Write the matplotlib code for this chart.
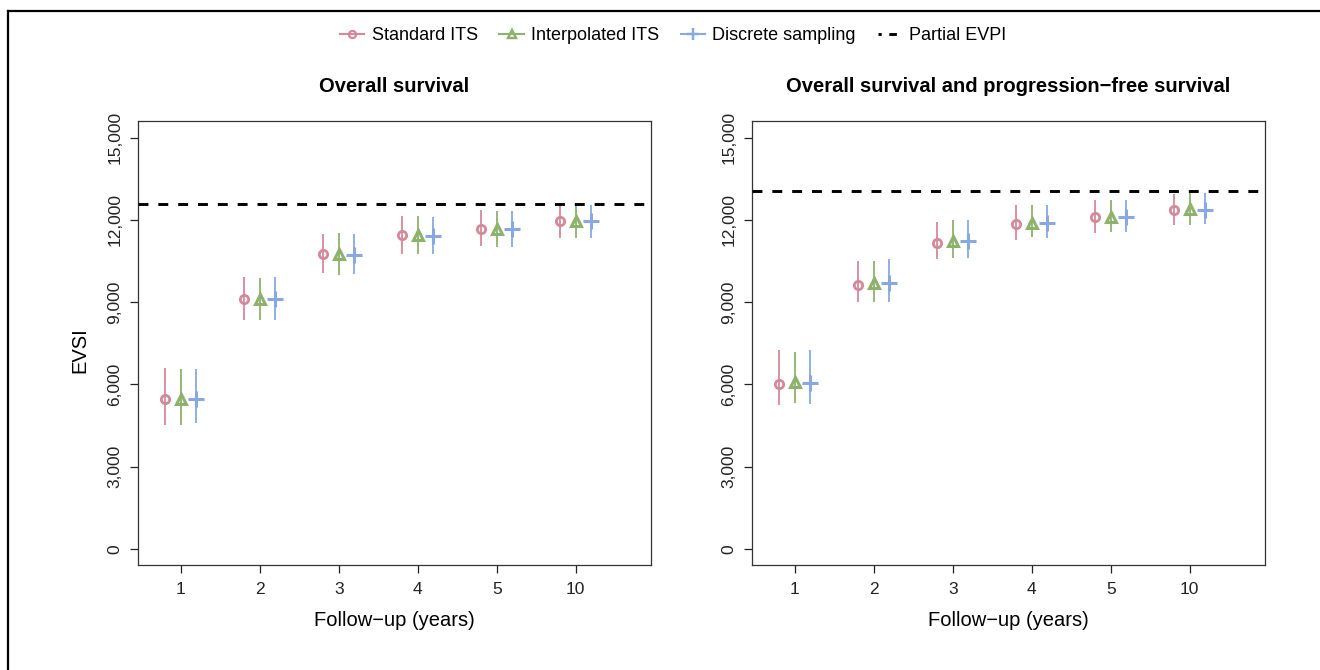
import matplotlib
matplotlib.use("Agg")
import matplotlib.pyplot as plt
from matplotlib.lines import Line2D
import numpy as np

plt.rcParams['font.family'] = ['Liberation Sans', 'DejaVu Sans']

years = ["1", "2", "3", "4", "5", "10"]

# Overall survival panel
os_std = [5470, 9120, 10740, 11440, 11680, 11950]
os_std_lo = [4530, 8360, 10050, 10770, 11050, 11360]
os_std_hi = [6600, 9920, 11480, 12130, 12350, 12570]
os_int = [5470, 9120, 10740, 11440, 11680, 11950]
os_int_lo = [4510, 8340, 10010, 10760, 11030, 11340]
os_int_hi = [6570, 9900, 11510, 12130, 12340, 12520]
os_dis = [5480, 9110, 10730, 11430, 11670, 11950]
os_dis_lo = [4590, 8360, 10020, 10770, 11030, 11340]
os_dis_hi = [6570, 9920, 11480, 12120, 12340, 12550]
os_evpi = 12590

# Overall survival and progression-free survival panel
pfs_std = [6020, 9630, 11170, 11840, 12100, 12350]
pfs_std_lo = [5250, 8990, 10560, 11280, 11540, 11830]
pfs_std_hi = [7240, 10510, 11930, 12550, 12720, 12950]
pfs_int = [6070, 9700, 11240, 11900, 12120, 12400]
pfs_int_lo = [5330, 8990, 10630, 11370, 11560, 11830]
pfs_int_hi = [7200, 10510, 12000, 12550, 12720, 13000]
pfs_dis = [6060, 9700, 11220, 11880, 12100, 12380]
pfs_dis_lo = [5300, 9020, 10630, 11330, 11550, 11850]
pfs_dis_hi = [7260, 10570, 12000, 12550, 12720, 13000]
pfs_evpi = 13050

series_names = ["Standard ITS", "Interpolated ITS", "Discrete sampling"]
colors = ["#D4899A", "#8DB26B", "#87A9E0"]
markers = ["o", "^", "+"]
msizes = [6, 7, 11]
mews = [2.0, 2.2, 2.2]
offsets = [-0.2, 0.0, 0.2]

W, H = 1320, 670
fig = plt.figure(figsize=(W / 100, H / 100), dpi=100)

ax_w = 513.6 / W
ax_h = (565.3 - 121.3) / H
ax_b = 1 - 565.3 / H
axL = fig.add_axes([137.7 / W, ax_b, ax_w, ax_h])
axR = fig.add_axes([751.7 / W, ax_b, ax_w, ax_h])

panels = [
    (axL, "Overall survival",
     [(os_std, os_std_lo, os_std_hi), (os_int, os_int_lo, os_int_hi), (os_dis, os_dis_lo, os_dis_hi)],
     os_evpi),
    (axR, "Overall survival and progression\u2212free survival",
     [(pfs_std, pfs_std_lo, pfs_std_hi), (pfs_int, pfs_int_lo, pfs_int_hi), (pfs_dis, pfs_dis_lo, pfs_dis_hi)],
     pfs_evpi),
]

pos = np.arange(1, len(years) + 1)
for ax, title, data, evpi in panels:
    for k, (mid, lo, hi) in enumerate(data):
        mid = np.array(mid); lo = np.array(lo); hi = np.array(hi)
        x = pos + offsets[k]
        ax.vlines(x, lo, hi, color=colors[k], lw=1.3, zorder=2)
        ax.plot(x, mid, linestyle='none', marker=markers[k], ms=msizes[k],
                mfc='none' if markers[k] != '+' else colors[k], mec=colors[k], mew=mews[k], zorder=3)
    ax.axhline(evpi, color='black', lw=2.1, linestyle=(0, (3.4, 3.4)), zorder=4)
    ax.set_xlim(0.456, 6.957)
    ax.set_ylim(-600, 15600)
    ax.set_xticks(pos)
    ax.set_xticklabels(years)
    ax.set_yticks([0, 3000, 6000, 9000, 12000, 15000])
    ax.set_yticklabels(["0", "3,000", "6,000", "9,000", "12,000", "15,000"],
                       rotation=90, va='center')
    ax.tick_params(axis='both', direction='out', length=6, width=0.9, labelsize=12.5,
                   colors='#222222')
    ax.tick_params(axis='x', pad=6)
    ax.tick_params(axis='y', pad=5)
    for s in ax.spines.values():
        s.set_linewidth(0.9)
        s.set_color('#333333')
    bb = ax.get_position()
    cx = (bb.x0 + bb.x1) / 2
    fig.text(cx, 1 - 87 / H, title, ha='center', va='center', fontsize=14.5, fontweight='bold')
    fig.text(cx, 1 - 621 / H, "Follow\u2212up (years)", ha='center', va='center', fontsize=14.5)

fig.text(80 / W, 1 - 350 / H, "EVSI", ha='center', va='center', rotation=90, fontsize=14.5)

# legend
handles = []
for k in range(3):
    handles.append(Line2D([0], [0], color=colors[k], lw=1.5, marker=markers[k],
                          ms=msizes[k] * 0.85, mfc='none' if markers[k] != '+' else colors[k],
                          mec=colors[k], mew=mews[k] * 0.8))
handles.append(Line2D([0], [0], color='black', lw=2.1, linestyle=(1.5, (2.6, 2.6))))
fig.legend(handles, series_names + ["Partial EVPI"], loc='center left', ncol=4,
           bbox_to_anchor=(340 / W, 1 - 36 / H), frameon=False, fontsize=13,
           handlelength=1.35, handletextpad=0.4, columnspacing=1.2,
           borderpad=0, borderaxespad=0)

# outer frame lines (top and left)
fig.add_artist(Line2D([8 / W, 1], [1 - 11 / H, 1 - 11 / H], color='black', lw=1.6,
                      transform=fig.transFigure))
fig.add_artist(Line2D([8 / W, 8 / W], [0, 1 - 11 / H], color='black', lw=1.6,
                      transform=fig.transFigure))

fig.savefig("out.png", dpi=100)
